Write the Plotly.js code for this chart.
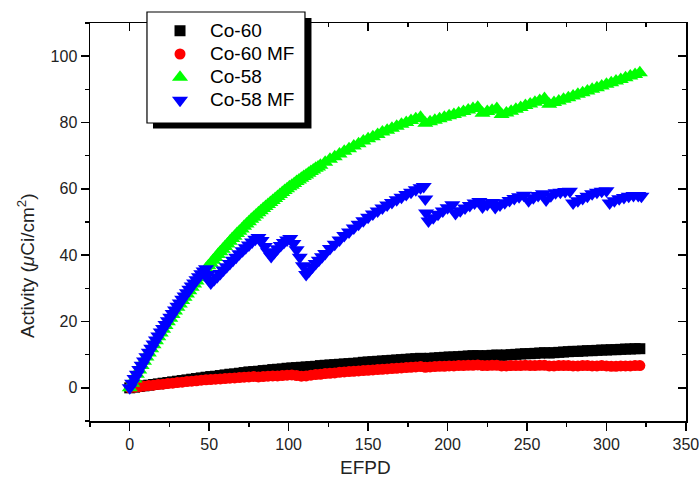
<!DOCTYPE html>
<html><head><meta charset="utf-8">
<script src="https://cdn.plot.ly/plotly-3.0.1.min.js"></script>
<style>html,body{margin:0;padding:0;background:#fff}#chart{width:699px;height:485px}</style>
</head><body><div id="chart"></div>
<script>
// EFPD grid used by Co-60 and Co-60 MF
const efpd = [0,3,6,9,12,15,18,21,24,27,30,33,36,39,42,45,48,51,54,57,60,63,66,69,72,75,78,81,84,87,90,93,96,99,102,105,108,111,114,117,120,123,126,129,132,135,138,141,144,147,150,153,156,159,162,165,168,171,174,177,180,183,186,189,192,195,198,201,204,207,210,213,216,219,222,225,228,231,234,237,240,243,246,249,252,255,258,261,264,267,270,273,276,279,282,285,288,291,294,297,300,303,306,309,312,315,318,321];
const co60 = [0,0.2,0.4,0.6,0.8,1.0,1.2,1.4,1.6,1.8,2.0,2.2,2.4,2.6,2.8,3.0,3.2,3.4,3.5,3.7,3.9,4.1,4.2,4.4,4.6,4.8,4.9,5.0,5.2,5.3,5.5,5.6,5.7,5.9,6.0,6.1,6.2,6.3,6.4,6.5,6.7,6.8,6.9,7.0,7.1,7.2,7.3,7.4,7.5,7.7,7.8,7.9,8.0,8.1,8.2,8.3,8.4,8.5,8.6,8.7,8.8,8.9,8.8,8.9,9.0,9.1,9.2,9.3,9.3,9.4,9.5,9.6,9.7,9.7,9.6,9.7,9.8,9.9,9.8,9.9,10.0,10.1,10.2,10.3,10.3,10.4,10.5,10.6,10.5,10.6,10.7,10.8,10.9,11.0,11.0,11.1,11.2,11.2,11.3,11.4,11.4,11.5,11.5,11.6,11.7,11.7,11.8,11.8];
const co60mf = [0,0.2,0.3,0.5,0.7,0.8,1.0,1.1,1.3,1.4,1.6,1.7,1.9,2.0,2.1,2.3,2.4,2.5,2.6,2.7,2.8,2.9,3.0,3.1,3.2,3.3,3.4,3.3,3.4,3.5,3.6,3.6,3.7,3.8,3.9,3.7,3.5,3.6,3.8,4.0,4.1,4.3,4.4,4.5,4.7,4.8,4.9,5.0,5.1,5.2,5.3,5.4,5.5,5.6,5.7,5.8,5.9,6.0,6.1,6.2,6.3,6.4,6.2,6.3,6.4,6.5,6.5,6.6,6.6,6.7,6.7,6.8,6.8,6.9,6.7,6.7,6.8,6.8,6.6,6.6,6.7,6.7,6.7,6.8,6.7,6.7,6.8,6.8,6.6,6.6,6.7,6.7,6.7,6.6,6.6,6.7,6.7,6.6,6.6,6.7,6.6,6.5,6.5,6.6,6.6,6.6,6.7,6.7];
// Co-58 (finer EFPD steps on the steep early part)
const efpd58 = [0,1.5,3,4.5,6,7.5,9,10.5,12,13.5,15,16.5,18,19.5,21,22.5,24,25.5,27,28.5,30,31.5,33,34.5,36,37.5,39,40.5,42,43.5,45,46.5,48,49.5,51,52.5,54,55.5,57,58.5,60,61.5,63,64.5,66,67.5,69,70.5,72,73.5,75,76.5,78,79.5,81,82.5,84,85.5,87,88.5,90,91.5,93,94.5,96,97.5,99,100.5,102,103.5,105,106.5,108,109.5,111,112.5,114,115.5,117,118.5,120,123,126,129,132,135,138,141,144,147,150,153,156,159,162,165,168,171,174,177,180,183,186,189,192,195,198,201,204,207,210,213,216,219,222,225,228,231,234,237,240,243,246,249,252,255,258,261,264,267,270,273,276,279,282,285,288,291,294,297,300,303,306,309,312,315,318,321];
const co58 = [0,1.4,2.7,4.1,5.4,6.7,8.0,9.3,10.5,11.8,13.0,14.2,15.4,16.5,17.7,18.8,19.9,21.0,22.1,23.2,24.3,25.3,26.3,27.3,28.3,29.3,30.3,31.3,32.2,33.2,34.1,35.0,35.9,36.8,37.6,38.5,39.3,40.2,41.0,41.8,42.6,43.4,44.2,45.0,45.7,46.5,47.2,47.9,48.7,49.4,50.1,50.8,51.4,52.1,52.8,53.4,54.1,54.7,55.3,55.9,56.5,57.1,57.7,58.3,58.9,59.5,60.0,60.6,61.1,61.6,62.2,62.7,63.2,63.7,64.2,64.7,65.2,65.7,66.2,66.6,67.1,68.0,68.9,69.7,70.5,71.3,72.1,72.9,73.6,74.4,75.1,75.7,76.4,77.1,77.7,78.3,78.9,79.5,80.0,80.6,81.1,81.6,79.8,80.2,80.7,81.1,81.6,82.0,82.4,82.9,83.3,83.8,84.2,84.6,82.8,83.3,83.7,84.2,82.4,82.9,83.4,84.0,84.5,85.1,85.6,86.1,86.6,87.2,85.5,86.0,86.5,87.0,87.5,88.0,88.5,89.0,89.5,90.0,90.5,91.0,91.5,92.0,92.5,93.0,93.5,94.0,94.5,95.0];
// Co-58 MF
const efpdMF58 = [0,1.5,3,4.5,6,7.5,9,10.5,12,13.5,15,16.5,18,19.5,21,22.5,24,25.5,27,28.5,30,31.5,33,34.5,36,37.5,39,40.5,42,43.5,45,46.5,48,49,50,51,53,55,57,59,61,63,65,67,69,71,73,75,77,79,81,83,85,87,89,91,93,95,97,99,101,103,105,107,109,111,113,115,117,119,121,123,126,129,132,135,138,141,144,147,150,153,156,159,162,165,168,171,174,177,180,183,185,186,186.5,188,191,194,197,200,203,205,208,211,214,217,220,222,225,228,230,233,236,239,242,245,248,251,254,257,260,262,265,268,271,274,277,279,282,285,288,291,294,297,300,302,305,308,311,314,317,320,322];
const co58mf = [0,1.4,2.8,4.1,5.5,6.8,8.1,9.4,10.7,11.9,13.2,14.4,15.6,16.8,17.9,19.1,20.2,21.3,22.4,23.5,24.6,25.6,26.7,27.7,28.7,29.7,30.7,31.6,32.6,33.5,34.4,35.2,35.9,34.2,32.4,31.6,32.6,33.5,34.5,35.5,36.5,37.5,38.5,39.4,40.4,41.3,42.2,43.1,44.0,44.8,45.3,44.4,42.6,41.0,39.6,40.8,41.9,42.9,43.8,44.6,45.0,43.5,41.6,39.4,36.8,34.2,35.3,36.4,37.5,38.5,39.5,40.5,42.0,43.3,44.6,45.9,47.0,48.2,49.3,50.4,51.4,52.4,53.3,54.2,55.1,55.9,56.7,57.5,58.3,59.0,59.7,60.3,60.7,56.9,52.7,50.3,51.3,52.3,53.3,54.3,55.2,52.6,53.4,54.2,55.0,55.7,56.2,54.5,55.3,55.9,54.4,55.1,55.8,56.5,57.1,57.6,58.1,56.4,57.3,58.0,58.5,56.6,57.9,58.8,59.0,59.2,59.3,55.7,56.4,57.1,57.8,58.5,59.0,59.3,59.4,55.7,56.4,57.0,57.4,57.8,58.0,58.0,57.8];
const seriesNames = ['Co-60','Co-60 MF','Co-58','Co-58 MF'];
const xTicks = [0,50,100,150,200,250,300,350];
const yTicks = [0,20,40,60,80,100];

const FONT = 'Liberation Sans, Arial, sans-serif';
const lbl = s => '<span style="font-size:19px">' + s + '</span>';
const traces = [
  {x:efpd, y:co60, name:lbl(seriesNames[0]), mode:'markers', type:'scatter', marker:{symbol:'square', size:11, color:'#000000', line:{width:0}}},
  {x:efpd, y:co60mf, name:lbl(seriesNames[1]), mode:'markers', type:'scatter', marker:{symbol:'circle', size:11, color:'#ff0000', line:{width:0}}},
  {x:efpd58, y:co58, name:lbl(seriesNames[2]), mode:'markers', type:'scatter', marker:{symbol:'triangle-up', size:14, color:'#00ff00', line:{width:0}}},
  {x:efpdMF58, y:co58mf, name:lbl(seriesNames[3]), mode:'markers', type:'scatter', marker:{symbol:'triangle-down', size:14, color:'#0000ff', line:{width:0}}},
  {x:[], y:[], xaxis:'x2', yaxis:'y2', showlegend:false, hoverinfo:'skip', type:'scatter', mode:'markers'}
];
const axBase = {showline:true, linecolor:'#000', linewidth:1.5, showgrid:false, zeroline:false, tickcolor:'#000', tickwidth:1.5, fixedrange:true};
const layout = {
  width:699, height:485,
  margin:{l:90, r:13, t:23, b:64, pad:0},
  paper_bgcolor:'#ffffff', plot_bgcolor:'#ffffff',
  font:{family:FONT, color:'#000', size:16},
  showlegend:true,
  legend:{x:0.1007, xanchor:'left', y:1.0219, yanchor:'top', bgcolor:'rgba(0,0,0,0)', borderwidth:0, itemwidth:50, font:{family:FONT, size:15.5, color:'#000'}, tracegroupgap:0},
  xaxis:Object.assign({}, axBase, {range:[-25,350.05], tickmode:'array', tickvals:xTicks, ticktext:xTicks.map(String), ticks:'outside', ticklen:8, ticklabeloverflow:'allow',
    minor:{dtick:25, tick0:0, ticks:'outside', ticklen:4, tickwidth:1.5, tickcolor:'#000', showgrid:false}, tickfont:{family:FONT, size:16, color:'#222'}}),
  yaxis:Object.assign({}, axBase, {range:[-10,110], tickmode:'array', tickvals:yTicks, ticktext:yTicks.map(String), ticks:'outside', ticklen:8, ticklabeloverflow:'allow',
    minor:{dtick:10, tick0:0, ticks:'outside', ticklen:4, tickwidth:1.5, tickcolor:'#000', showgrid:false}, tickfont:{family:FONT, size:16, color:'#222'}}),
  xaxis2:Object.assign({}, axBase, {overlaying:'x', side:'top', range:[-25,350.05], tick0:0, dtick:50, ticks:'inside', ticklen:8, showticklabels:false,
    minor:{dtick:25, tick0:0, ticks:'inside', ticklen:4, tickwidth:1.5, tickcolor:'#000', showgrid:false}}),
  yaxis2:Object.assign({}, axBase, {overlaying:'y', side:'right', range:[-10,110], tick0:0, dtick:20, ticks:'inside', ticklen:8, showticklabels:false,
    minor:{dtick:10, tick0:0, ticks:'inside', ticklen:4, tickwidth:1.5, tickcolor:'#000', showgrid:false}}),
  shapes:[
    {type:'rect', xref:'paper', yref:'paper', x0:0.1057, x1:0.3716, y0:0.7349, y1:1.0126, fillcolor:'#000', line:{width:0}, layer:'above'},
    {type:'rect', xref:'paper', yref:'paper', x0:0.0956, x1:0.3607, y0:0.7487, y1:1.0276, fillcolor:'#fff', line:{color:'#000', width:1.2}, layer:'above'}
  ],
  annotations:[
    {text:'Activity (<i>μ</i>Ci/cm<sup>2</sup>)', xref:'paper', yref:'paper', x:-0.1074, y:0.392, xanchor:'center', yanchor:'middle', textangle:-90, showarrow:false, font:{family:FONT, size:19, color:'#222'}},
    {text:'EFPD', xref:'paper', yref:'paper', x:0.463, y:-0.1156, xanchor:'center', yanchor:'middle', showarrow:false, font:{family:FONT, size:19, color:'#222'}}
  ]
};
Plotly.newPlot('chart', traces, layout, {displayModeBar:false, staticPlot:true});
</script>
</body></html>
